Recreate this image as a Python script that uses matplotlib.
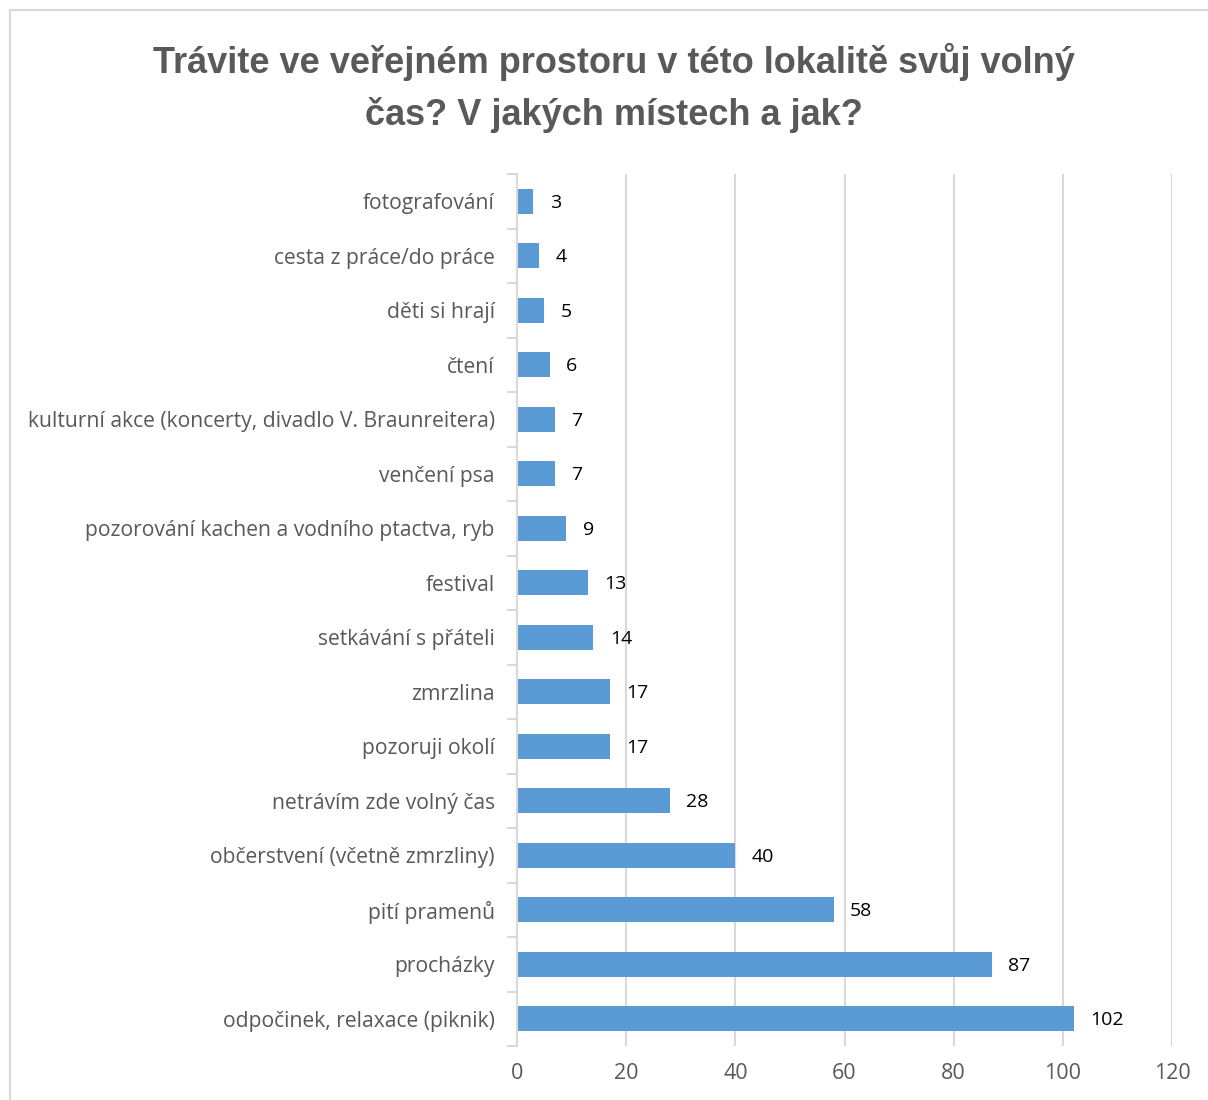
import matplotlib.pyplot as plt
from matplotlib.patches import Rectangle
from matplotlib.ticker import FixedLocator

# data (top to bottom as in the chart)
kategorie = ['fotografování', 'cesta z práce/do práce', 'děti si hrají', 'čtení',
             'kulturní akce (koncerty, divadlo V. Braunreitera)', 'venčení psa',
             'pozorování kachen a vodního ptactva, ryb', 'festival', 'setkávání s přáteli',
             'zmrzlina', 'pozoruji okolí', 'netrávím zde volný čas',
             'občerstvení (včetně zmrzliny)', 'pití pramenů', 'procházky',
             'odpočinek, relaxace (piknik)']
pocty = [3, 4, 5, 6, 7, 7, 9, 13, 14, 17, 17, 28, 40, 58, 87, 102]
x_ticks = [0, 20, 40, 60, 80, 100, 120]

seda = '#595959'
mrizka = '#D9D9D9'

fig = plt.figure(figsize=(12.08, 11.0), dpi=100)
# ramecek grafu (orezany vpravo a dole)
fig.patches.append(Rectangle((10/1208, -0.1), 1.2, 1 - 10/1100 + 0.1, transform=fig.transFigure,
                             fill=False, edgecolor=mrizka, linewidth=1.5))

ax = fig.add_axes([517/1208, 1 - 1046/1100, (1172 - 517)/1208, (1046 - 174)/1100])
n = len(kategorie)
pos = list(range(n - 1, -1, -1))
ax.barh(pos, pocty, height=0.45, color='#5B9BD5')
for p, v in zip(pos, pocty):
    ax.text(v + 3, p - 0.03, str(v), va='center', ha='left', fontsize=14,
            family='Open Sans', color='black')

ax.set_xlim(0, 120)
ax.set_ylim(-0.5, n - 0.5)
ax.set_xticks(x_ticks)
ax.set_yticks(pos)
ax.set_yticklabels(kategorie, fontsize=15.2, family='Open Sans', color=seda)
ax.tick_params(axis='y', length=0, pad=16)
ax.yaxis.set_minor_locator(FixedLocator([i - 0.5 for i in range(n + 1)]))
ax.tick_params(axis='y', which='minor', length=7, color=mrizka, width=1.5)
ax.tick_params(axis='x', length=0, pad=12, labelsize=15.5, labelcolor=seda)
for t in ax.get_xticklabels():
    t.set_family('Open Sans')
ax.grid(axis='x', color=mrizka, linewidth=1.5)
ax.set_axisbelow(True)
for s in ['top', 'right', 'bottom']:
    ax.spines[s].set_visible(False)
ax.spines['left'].set_color(mrizka)
ax.spines['left'].set_linewidth(1.5)

fig.text(614/1208, 1 - 62/1100, 'Trávite ve veřejném prostoru v této lokalitě svůj volný',
         ha='center', va='center', fontsize=26, fontweight='bold',
         family='Liberation Sans', color=seda)
fig.text(614/1208, 1 - 115/1100, 'čas? V jakých místech a jak?',
         ha='center', va='center', fontsize=26, fontweight='bold',
         family='Liberation Sans', color=seda)

fig.savefig('out.png', dpi=100)
